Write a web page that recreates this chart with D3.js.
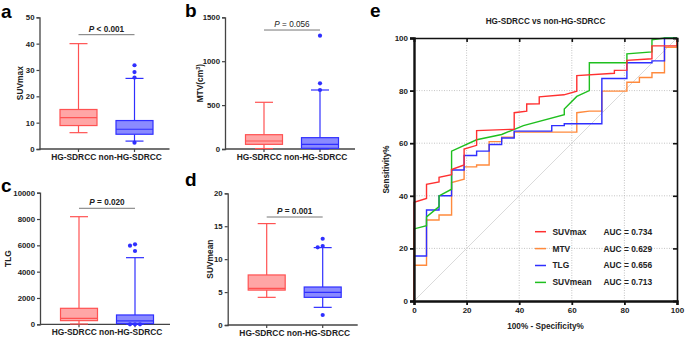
<!DOCTYPE html>
<html>
<head>
<meta charset="utf-8">
<script src="https://cdn.jsdelivr.net/npm/d3@7"></script>
<style>
  body { margin: 0; background: #fff; }
  svg text { font-family: "Liberation Sans", Arial, sans-serif; }
</style>
</head>
<body>
<script>
// ---- data ----
const groups = ["HG-SDRCC", "non-HG-SDRCC"];

// box stats: [min, q1, median, q3, max]
const suvmaxHG = [6.2, 8.9, 11.9, 15.0, 40.0];
const suvmaxNon = [3.0, 5.6, 7.5, 10.8, 26.8];
const suvmaxOut = [31.8, 29.2, 27.1, 2.4];
const suvmaxTicks = [0, 10, 20, 30, 40, 50];

const mtvHG = [5, 53, 91, 163, 532];
const mtvNon = [2, 8, 53, 129, 672];
const mtvOut = [1291, 748, 672];
const mtvTicks = [0, 500, 1000, 1500];

const tlgHG = [20, 278, 456, 1215, 8177];
const tlgNon = [10, 50, 253, 709, 5063];
const tlgOut = [6076, 5975, 5570, 0, 0, 0];
const tlgTicks = [0, 2000, 4000, 6000, 8000, 10000];

const suvmeanHG = [4.2, 5.3, 5.57, 7.6, 15.4];
const suvmeanNon = [2.68, 4.2, 4.96, 5.77, 11.75];
const suvmeanOut = [13.1, 12.0, 11.8, 1.52];
const suvmeanTicks = [0, 5, 10, 15, 20];

const pTexts = ["P < 0.001", "P = 0.056", "P = 0.020", "P = 0.001"];
const pLevels = [43.4, 1355, 8815, 16.4];

// ROC curves: 100% - specificity (x) and sensitivity (y)
const rocNames = ["SUVmax", "MTV", "TLG", "SUVmean"];
const rocAUC = ["0.734", "0.629", "0.656", "0.713"];

const suvmaxFpr = [0, 0, 4.76, 4.76, 9.52, 9.52, 14.29, 14.29, 19.05, 19.05, 23.81, 23.81, 38.1, 38.1, 42.86, 42.86, 47.62, 47.62, 57, 61.9, 61.9, 76.19, 76.19, 80.95, 80.95, 90.48, 90.48, 100, 100];
const suvmaxSens = [0, 37.5, 39, 44.4, 45.3, 47, 48, 50, 51.7, 57.8, 59.2, 64.8, 65.3, 71.6, 72.2, 74.9, 75, 77.6, 78.4, 79.8, 85.7, 86.6, 87.7, 87.8, 91.5, 92.1, 97, 97, 100];

const mtvFpr = [0, 0, 4.76, 4.76, 9.52, 9.52, 14.29, 14.29, 19.05, 19.05, 23.81, 23.81, 28.57, 28.57, 33.33, 33.33, 38.1, 38.1, 61.9, 61.9, 66.67, 71.43, 71.43, 80.95, 80.95, 85.71, 85.71, 90.48, 90.48, 95.24, 95.24, 100, 100];
const mtvSens = [0, 13.6, 13.6, 30.8, 30.8, 32.7, 32.7, 45, 46.3, 51, 51, 51.7, 51.7, 60.6, 60.6, 62.3, 62.3, 64.2, 64.2, 71.6, 72.2, 72.2, 79.8, 79.8, 83.2, 83.2, 85, 85, 86.8, 86.8, 96.5, 96.5, 100];

const tlgFpr = [0, 0, 4.76, 4.76, 9.52, 9.52, 14.29, 14.29, 19.05, 19.05, 23.81, 23.81, 28.57, 28.57, 33.33, 33.33, 38.1, 38.1, 52.38, 52.38, 57.14, 57.14, 71.43, 71.43, 80.95, 80.95, 90.48, 90.48, 95.24, 95.24, 100];
const tlgSens = [0, 17.1, 17.1, 34.6, 34.6, 40, 40, 49.8, 49.8, 55.3, 55.3, 57, 57, 59.5, 59.5, 62, 62, 64.6, 64.6, 66.7, 66.7, 67.4, 67.4, 84.6, 84.6, 90.6, 90.6, 91.3, 91.3, 100, 100];

const suvmeanFpr = [0, 0, 4.76, 4.76, 9.52, 9.52, 14.29, 14.29, 23.81, 33.33, 41.6, 57.14, 57.14, 61.9, 66.67, 66.67, 80.95, 80.95, 90.48, 90.48, 95.24, 100];
const suvmeanSens = [0, 27.4, 28.6, 32, 35.9, 40, 42.5, 57, 61.3, 63.3, 66.7, 70.8, 73, 77.8, 80, 90.6, 90.6, 94, 94.7, 99.3, 100, 100];

const rocTicks = [0, 20, 40, 60, 80, 100];

function main() {
    const svg = d3.select("body").append("svg")
        .attr("width", 685)
        .attr("height", 337);

    const redStroke = "#ff5252", redFill = "#ffa6a6";
    const blueStroke = "#2f2fff", blueFill = "#8a8aff";
    const axisColor = "#444";

    //box plot panels
    const panels = [
        {label: "a", lx: 1, ly: 17.5, left: 39.5, top: 17.3, bottom: 149, stats: [suvmaxHG, suvmaxNon], out: suvmaxOut, ticks: suvmaxTicks, title: "SUVmax", tx: 20, p: 0, bold: true},
        {label: "b", lx: 185, ly: 17, left: 225, top: 17.3, bottom: 149, stats: [mtvHG, mtvNon], out: mtvOut, ticks: mtvTicks, title: "MTV(cm", tx: 200, p: 1, bold: false},
        {label: "c", lx: 1, ly: 191.5, left: 40, top: 192.7, bottom: 324.3, stats: [tlgHG, tlgNon], out: tlgOut, ticks: tlgTicks, title: "TLG", tx: 8.5, p: 2, bold: true},
        {label: "d", lx: 185, ly: 186, left: 227.7, top: 193.3, bottom: 325, stats: [suvmeanHG, suvmeanNon], out: suvmeanOut, ticks: suvmeanTicks, title: "SUVmean", tx: 210, p: 3, bold: true}
    ];

    panels.forEach(function (pn) { drawBoxPanel(pn); });

    function drawBoxPanel(pn) {
        let ticks = pn.ticks;
        let y = d3.scaleLinear().domain([0, ticks[ticks.length - 1]]).range([pn.bottom, pn.top]);
        let x = d3.scalePoint().domain(groups).range([pn.left + 39, pn.left + 95]);
        let right = pn.left + 130;

        let g = svg.append("g");

        // panel letter
        svg.append("text").attr("x", pn.lx).attr("y", pn.ly)
            .attr("font-size", 19).attr("font-weight", "bold").text(pn.label);

        // Y axis
        let ya = g.append("g")
            .attr("transform", "translate(" + pn.left + ",0)")
            .call(d3.axisLeft(y).tickValues(ticks).tickSize(3).tickPadding(2).tickFormat(d3.format("d")));
        ya.select(".domain").attr("stroke", axisColor).attr("stroke-width", 1.3);
        ya.selectAll(".tick line").attr("stroke", axisColor).attr("stroke-width", 1.2);
        ya.selectAll("text").attr("font-size", 7.8).attr("font-weight", "bold").attr("fill", "#222")
            .attr("font-family", "Liberation Sans, Arial, sans-serif");

        // X axis
        let xa = g.append("g")
            .attr("transform", "translate(0," + pn.bottom + ")");
        xa.append("line").attr("x1", pn.left).attr("x2", right)
            .attr("stroke", axisColor).attr("stroke-width", 1.3);
        groups.forEach(function (gr) {
            xa.append("line").attr("x1", x(gr)).attr("x2", x(gr)).attr("y1", 0).attr("y2", 3)
                .attr("stroke", axisColor).attr("stroke-width", 1.2);
        });
        xa.append("text").attr("x", (x(groups[0]) + x(groups[1])) / 2).attr("y", 11)
            .attr("text-anchor", "middle").attr("font-size", 8.4).attr("font-weight", "bold").attr("fill", "#222")
            .text(groups[0] + " " + groups[1]);

        // y title
        let yt = svg.append("text")
            .attr("transform", "translate(" + pn.tx + "," + ((pn.top + pn.bottom) / 2) + ") rotate(-90)")
            .attr("text-anchor", "middle").attr("dy", "0.35em")
            .attr("font-size", 8.4).attr("font-weight", "bold").attr("fill", "#222")
            .text(pn.title);
        if (pn.label === "b") {
            yt.append("tspan").attr("font-size", 5.5).attr("dy", "-0.5em").text("3");
            yt.append("tspan").attr("dy", "0.35em").text(")");
        }

        // boxes
        let boxW = 37, capW = 18;
        let strokes = [redStroke, blueStroke], fills = [redFill, blueFill];
        groups.forEach(function (gr, i) {
            let s = pn.stats[i];
            let cx = x(gr);
            let bg = g.append("g").attr("stroke", strokes[i]).attr("stroke-width", 1.2);
            bg.append("line").attr("x1", cx).attr("x2", cx).attr("y1", y(s[0])).attr("y2", y(s[1]));
            bg.append("line").attr("x1", cx).attr("x2", cx).attr("y1", y(s[3])).attr("y2", y(s[4]));
            bg.append("line").attr("x1", cx - capW / 2).attr("x2", cx + capW / 2).attr("y1", y(s[0])).attr("y2", y(s[0]));
            bg.append("line").attr("x1", cx - capW / 2).attr("x2", cx + capW / 2).attr("y1", y(s[4])).attr("y2", y(s[4]));
            bg.append("rect").attr("x", cx - boxW / 2).attr("width", boxW)
                .attr("y", y(s[3])).attr("height", y(s[1]) - y(s[3]))
                .attr("fill", fills[i]);
            bg.append("line").attr("x1", cx - boxW / 2).attr("x2", cx + boxW / 2).attr("y1", y(s[2])).attr("y2", y(s[2]));
        });

        // outliers (non-HG group), nudged sideways when they overlap
        let placed = [];
        let shifts = [0, -5, 5];
        pn.out.forEach(function (v) {
            let py = y(v);
            let near = placed.filter(function (q) { return Math.abs(q - py) < 4; }).length;
            placed.push(py);
            svg.append("circle").attr("cx", x(groups[1]) + shifts[near % 3]).attr("cy", py)
                .attr("r", 2.1).attr("fill", blueStroke);
        });

        // p value bracket
        let ly = y(pLevels[pn.p]);
        svg.append("line").attr("x1", x(groups[0])).attr("x2", x(groups[1]))
            .attr("y1", ly).attr("y2", ly).attr("stroke", "#777").attr("stroke-width", 1);
        let pt = svg.append("text").attr("x", (x(groups[0]) + x(groups[1])) / 2).attr("y", ly - 3)
            .attr("text-anchor", "middle").attr("font-size", 8.2).attr("fill", "#222")
            .attr("font-weight", pn.bold ? "bold" : "normal");
        let parts = pTexts[pn.p].split(" ");
        pt.append("tspan").attr("font-style", "italic").text(parts[0]);
        pt.append("tspan").text(" " + parts.slice(1).join(" "));
    }

    // ---- ROC panel ----
    let rx = d3.scaleLinear().domain([0, 100]).range([414, 677]);
    let ry = d3.scaleLinear().domain([0, 100]).range([301, 38]);

    svg.append("text").attr("x", 370).attr("y", 16.5)
        .attr("font-size", 19).attr("font-weight", "bold").text("e");
    svg.append("text").attr("x", 545.5).attr("y", 23.5).attr("text-anchor", "middle")
        .attr("font-size", 8.2).attr("font-weight", "bold").attr("fill", "#222")
        .text("HG-SDRCC vs non-HG-SDRCC");

    // grid
    let grid = svg.append("g").attr("stroke", "#b5b5b5").attr("stroke-width", 0.8).attr("stroke-dasharray", "1,1.5");
    rocTicks.slice(1, -1).forEach(function (t) {
        grid.append("line").attr("x1", rx(t)).attr("x2", rx(t)).attr("y1", ry(0)).attr("y2", ry(100));
        grid.append("line").attr("x1", rx(0)).attr("x2", rx(100)).attr("y1", ry(t)).attr("y2", ry(t));
    });
    svg.append("line").attr("x1", rx(0)).attr("y1", ry(0)).attr("x2", rx(100)).attr("y2", ry(100))
        .attr("stroke", "#d0d0d0").attr("stroke-width", 0.8);

    // curves
    let rocX = [suvmaxFpr, mtvFpr, tlgFpr, suvmeanFpr];
    let rocY = [suvmaxSens, mtvSens, tlgSens, suvmeanSens];
    let rocColors = ["#ff3030", "#ff8a3d", "#2f2fff", "#1fbf1f"];
    let line = d3.line().x(function (d) { return rx(d[0]); }).y(function (d) { return ry(d[1]); });
    [1, 2, 3, 0].forEach(function (k) {
        let pts = rocX[k].map(function (v, i) { return [v, rocY[k][i]]; });
        svg.append("path").attr("d", line(pts)).attr("fill", "none")
            .attr("stroke", rocColors[k]).attr("stroke-width", 1.4);
    });

    // axes
    let bx = svg.append("g").attr("transform", "translate(0," + ry(0) + ")")
        .call(d3.axisBottom(rx).tickValues(rocTicks).tickSize(4).tickPadding(2));
    let lx = svg.append("g").attr("transform", "translate(" + rx(0) + ",0)")
        .call(d3.axisLeft(ry).tickValues(rocTicks).tickSize(4).tickPadding(2));
    let tx = svg.append("g").attr("transform", "translate(0," + ry(100) + ")")
        .call(d3.axisTop(rx).tickValues(rocTicks).tickSize(-4).tickFormat(""));
    let rgt = svg.append("g").attr("transform", "translate(" + rx(100) + ",0)")
        .call(d3.axisRight(ry).tickValues(rocTicks).tickSize(-4).tickFormat(""));
    [bx, lx].forEach(function (a) {
        a.select(".domain").attr("stroke", "#111").attr("stroke-width", 2.4);
        a.selectAll(".tick line").attr("stroke", "#111").attr("stroke-width", 1.8);
        a.selectAll("text").attr("font-size", 8).attr("font-weight", "bold").attr("fill", "#222")
            .attr("font-family", "Liberation Sans, Arial, sans-serif");
    });
    [tx, rgt].forEach(function (a) {
        a.select(".domain").attr("stroke", "#111").attr("stroke-width", 1.6);
        a.selectAll(".tick line").attr("stroke", "#111").attr("stroke-width", 1.6);
    });

    svg.append("text").attr("x", 545.5).attr("y", 329).attr("text-anchor", "middle")
        .attr("font-size", 8.2).attr("font-weight", "bold").attr("fill", "#222")
        .text("100% - Specificity%");
    svg.append("text").attr("transform", "translate(386.5," + ry(50) + ") rotate(-90)")
        .attr("text-anchor", "middle").attr("dy", "0.35em")
        .attr("font-size", 8.2).attr("font-weight", "bold").attr("fill", "#222")
        .text("Sensitivity%");

    // legend
    rocNames.forEach(function (nm, i) {
        let yy = 231.7 + i * 16.9;
        svg.append("line").attr("x1", 535).attr("x2", 546).attr("y1", yy).attr("y2", yy)
            .attr("stroke", rocColors[i]).attr("stroke-width", 1.5);
        svg.append("text").attr("x", 552.5).attr("y", yy).attr("dy", "0.35em")
            .attr("font-size", 8.4).attr("font-weight", "bold").attr("fill", "#222").text(nm);
        svg.append("text").attr("x", 603.5).attr("y", yy).attr("dy", "0.35em")
            .attr("font-size", 8.4).attr("font-weight", "bold").attr("fill", "#222").text("AUC = " + rocAUC[i]);
    });
}

main();
</script>
</body>
</html>
